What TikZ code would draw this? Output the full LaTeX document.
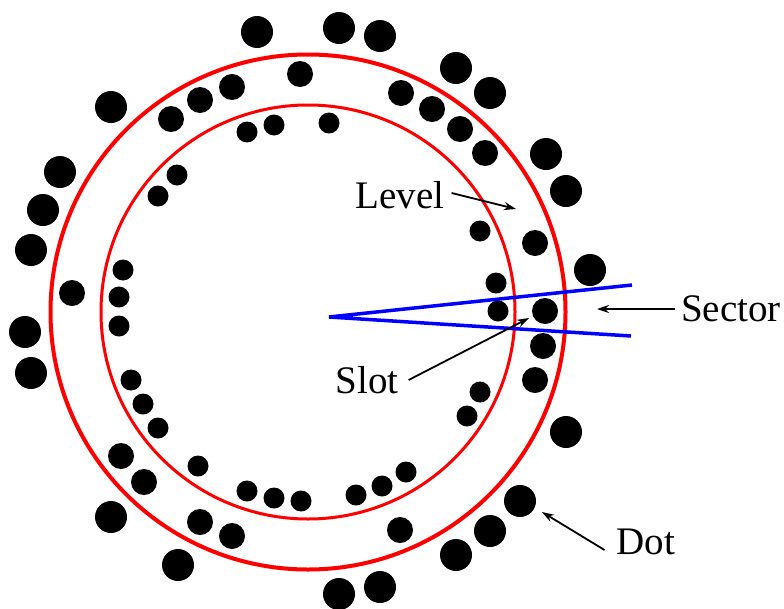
\documentclass[tikz,border=0pt]{standalone}
\usepackage{fontspec}
\setmainfont{Liberation Serif}
\usetikzlibrary{arrows.meta, positioning}
\definecolor{ringred}{RGB}{255, 0, 0}
\definecolor{sectblue}{RGB}{0, 0, 255}

\begin{document}
\begin{tikzpicture}[
    x=1pt, y=-1pt,
    ring/.style={draw=ringred},
    dotfill/.style={fill=black},
    sectline/.style={draw=sectblue, line width=3.5pt},
    lbl/.style={inner sep=0pt, font=\fontsize{39}{39}\selectfont},
    arrow/.style={-{Stealth[length=12pt, width=8pt]}, line width=1.8pt, black},
  ]
    \useasboundingbox (0,0) rectangle (784,608);

    \draw[ring, line width=4pt] (308,312) circle (257.5);
    \draw[ring, line width=3pt] (308,312) circle (207);

    \foreach \px/\py in {257/32, 339/28, 380/36, 111/107, 60/172, 43/210, 31/250,
        25/332, 31/373, 111/517, 178/565, 339/594, 380/587, 456/68, 490/93,
        546/154, 566/191, 590/270, 566/432, 520/501, 490/531, 456/555}
      \fill[dotfill] (\px,\py) circle (16);
    \foreach \px/\py in {300/74, 232/87, 200/100, 171/119, 72/293, 401/93, 432/109,
        460/129, 485/153, 535/243, 121/456, 144/482, 200/522, 232/536, 400/530,
        545/311, 543/346, 535/380}
      \fill[dotfill] (\px,\py) circle (13);
    \foreach \px/\py in {247/132, 274/125, 329/123, 177/175, 158/196, 123/270,
        119/297, 119/326, 131/380, 143/404, 158/428, 198/466, 247/491, 274/498,
        301/501, 356/495, 382/486, 406/472, 467/416, 480/392, 498/311, 496/283,
        480/231}
      \fill[dotfill] (\px,\py) circle (10.5);

    \coordinate (apex) at (329,317);
    \coordinate (secttop) at (632,285);
    \coordinate (sectbot) at (631,336);
    \draw[sectline] (secttop) -- (apex) -- (sectbot);

    \node[lbl] (level) at (400,195) {Level};
    \node[lbl] (sector) at (731,309) {Sector};
    \node[lbl] (slot) at (367,380) {Slot};
    \node[lbl] (dotlbl) at (646,542) {Dot};

    \coordinate (levelpt) at (516,209);
    \coordinate (sectorpt) at (597,309);
    \coordinate (slotpt) at (529,318);
    \coordinate (dotpt) at (542,512);

    \draw[arrow] ([xshift=7pt,yshift=2pt]level.east) -- (levelpt);
    \draw[arrow] ([xshift=-6pt]sector.west) -- (sectorpt);
    \draw[arrow] ([xshift=10pt]slot.east) -- (slotpt);
    \draw[arrow] ([xshift=-12pt,yshift=-8pt]dotlbl.west) -- (dotpt);
  \end{tikzpicture}
\end{document}
